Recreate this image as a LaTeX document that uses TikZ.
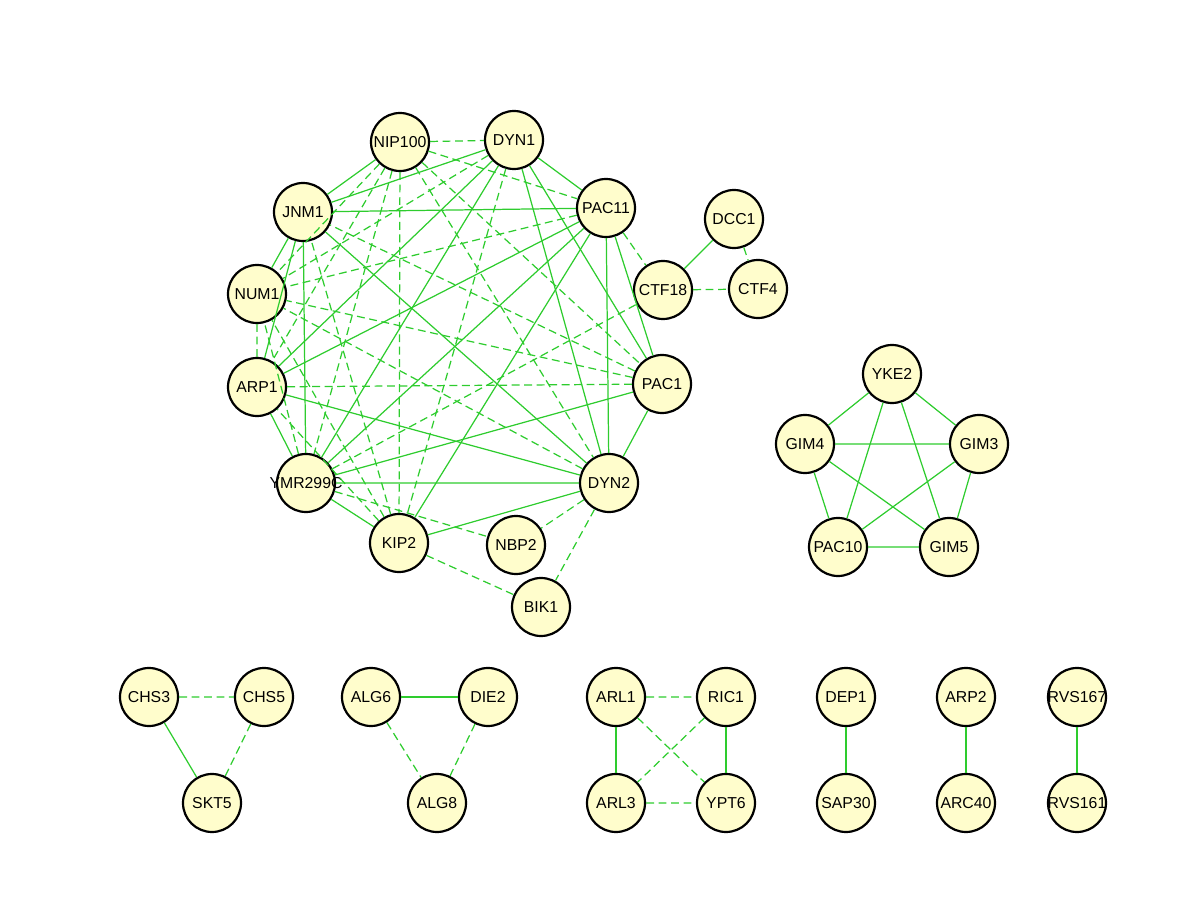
\documentclass[tikz,border=0pt]{standalone}
\usepackage{fontspec}
\setmainfont{Liberation Sans}
\definecolor{nodefill}{HTML}{FFFDCC}
\definecolor{edgegreen}{HTML}{2ECC2E}

\begin{document}
\begin{tikzpicture}[x=0.02cm,y=-0.02cm,
	prot/.style={circle,draw=black,line width=1.25pt,fill=nodefill,minimum size=1.16cm,inner sep=0pt},
	every label/.style={font=\fontsize{9}{10}\selectfont},
	sol/.style={draw=edgegreen,line width=0.7pt},
	das/.style={sol,dash pattern=on 4.5pt off 2.6pt}]
	\useasboundingbox (0,0) rectangle (1200,898);
	% dynein / dynactin cluster
	\node[prot,label=center:NIP100] (NIP100) at (400,142) {};
	\node[prot,label=center:DYN1] (DYN1) at (514,140) {};
	\node[prot,label=center:JNM1] (JNM1) at (303,212) {};
	\node[prot,label=center:PAC11] (PAC11) at (606,208) {};
	\node[prot,label=center:NUM1] (NUM1) at (257,294) {};
	\node[prot,label=center:ARP1] (ARP1) at (257,387) {};
	\node[prot,label=center:PAC1] (PAC1) at (662,384) {};
	\node[prot,label=center:YMR299C] (YMR299C) at (306,483) {};
	\node[prot,label=center:DYN2] (DYN2) at (609,483) {};
	\node[prot,label=center:KIP2] (KIP2) at (399,543) {};
	\node[prot,label=center:NBP2] (NBP2) at (516,545) {};
	\node[prot,label=center:BIK1] (BIK1) at (541,607) {};
	\node[prot,label=center:DCC1] (DCC1) at (734,219) {};
	\node[prot,label=center:CTF18] (CTF18) at (663,290) {};
	\node[prot,label=center:CTF4] (CTF4) at (758,289) {};
	% prefoldin
	\node[prot,label=center:YKE2] (YKE2) at (892,374) {};
	\node[prot,label=center:GIM4] (GIM4) at (805,444) {};
	\node[prot,label=center:GIM3] (GIM3) at (979,444) {};
	\node[prot,label=center:PAC10] (PAC10) at (838,547) {};
	\node[prot,label=center:GIM5] (GIM5) at (949,547) {};
	% small groups
	\node[prot,label=center:CHS3] (CHS3) at (149,697) {};
	\node[prot,label=center:CHS5] (CHS5) at (264,697) {};
	\node[prot,label=center:SKT5] (SKT5) at (212,803) {};
	\node[prot,label=center:ALG6] (ALG6) at (371,697) {};
	\node[prot,label=center:DIE2] (DIE2) at (488,697) {};
	\node[prot,label=center:ALG8] (ALG8) at (437,803) {};
	\node[prot,label=center:ARL1] (ARL1) at (616,697) {};
	\node[prot,label=center:RIC1] (RIC1) at (726,697) {};
	\node[prot,label=center:ARL3] (ARL3) at (616,803) {};
	\node[prot,label=center:YPT6] (YPT6) at (726,803) {};
	\node[prot,label=center:DEP1] (DEP1) at (846,697) {};
	\node[prot,label=center:SAP30] (SAP30) at (846,803) {};
	\node[prot,label=center:ARP2] (ARP2) at (966,697) {};
	\node[prot,label=center:ARC40] (ARC40) at (966,803) {};
	\node[prot,label=center:RVS167] (RVS167) at (1077,697) {};
	\node[prot,label=center:RVS161] (RVS161) at (1077,803) {};

	% solid links
	\draw[sol] (NIP100) -- (JNM1);
	\draw[sol] (DYN1) -- (PAC11) (DYN1) -- (PAC1) (DYN1) -- (DYN2) (DYN1) -- (YMR299C) (DYN1) -- (ARP1) (DYN1) -- (JNM1);
	\draw[sol] (PAC11) -- (PAC1) (PAC11) -- (DYN2) (PAC11) -- (KIP2) (PAC11) -- (YMR299C) (PAC11) -- (ARP1) (PAC11) -- (JNM1);
	\draw[sol] (PAC1) -- (DYN2) (PAC1) -- (YMR299C);
	\draw[sol] (DYN2) -- (KIP2) (DYN2) -- (YMR299C) (DYN2) -- (ARP1) (DYN2) -- (JNM1);
	\draw[sol] (KIP2) -- (YMR299C) (YMR299C) -- (ARP1) (YMR299C) -- (JNM1) (ARP1) -- (JNM1) (NUM1) -- (JNM1);
	\draw[sol] (CTF18) -- (DCC1);
	% dashed links
	\draw[das] (NIP100) -- (DYN1) (NIP100) -- (PAC11) (NIP100) -- (PAC1) (NIP100) -- (DYN2) (NIP100) -- (KIP2) (NIP100) -- (YMR299C) (NIP100) -- (ARP1) (NIP100) -- (NUM1);
	\draw[das] (DYN1) -- (KIP2) (DYN1) -- (NUM1) (PAC11) -- (NUM1);
	\draw[das] (PAC1) -- (ARP1) (PAC1) -- (NUM1) (PAC1) -- (JNM1) (DYN2) -- (NUM1);
	\draw[das] (KIP2) -- (ARP1) (KIP2) -- (NUM1) (KIP2) -- (JNM1) (YMR299C) -- (NUM1) (ARP1) -- (NUM1);
	\draw[das] (DYN2) -- (NBP2) (DYN2) -- (BIK1) (KIP2) -- (BIK1) (YMR299C) -- (NBP2);
	\draw[das] (PAC11) -- (CTF18) (YMR299C) -- (CTF18) (CTF18) -- (CTF4) (DCC1) -- (CTF4);

	% prefoldin links
	\draw[sol] (YKE2) -- (GIM4) (YKE2) -- (GIM3) (YKE2) -- (PAC10) (YKE2) -- (GIM5);
	\draw[sol] (GIM4) -- (GIM3) (GIM4) -- (PAC10) (GIM4) -- (GIM5) (GIM3) -- (PAC10) (GIM3) -- (GIM5) (PAC10) -- (GIM5);

	% bottom row
	\draw[das] (CHS3) -- (CHS5) (CHS5) -- (SKT5);
	\draw[sol] (CHS3) -- (SKT5);
	\draw[sol] (ALG6) -- (DIE2);
	\draw[das] (ALG6) -- (ALG8) (DIE2) -- (ALG8);
	\draw[sol] (ARL1) -- (ARL3) (RIC1) -- (YPT6);
	\draw[das] (ARL1) -- (RIC1) (ARL1) -- (YPT6) (RIC1) -- (ARL3) (ARL3) -- (YPT6);
	\draw[sol] (DEP1) -- (SAP30);
	\draw[sol] (ARP2) -- (ARC40);
	\draw[sol] (RVS167) -- (RVS161);
\end{tikzpicture}
\end{document}
